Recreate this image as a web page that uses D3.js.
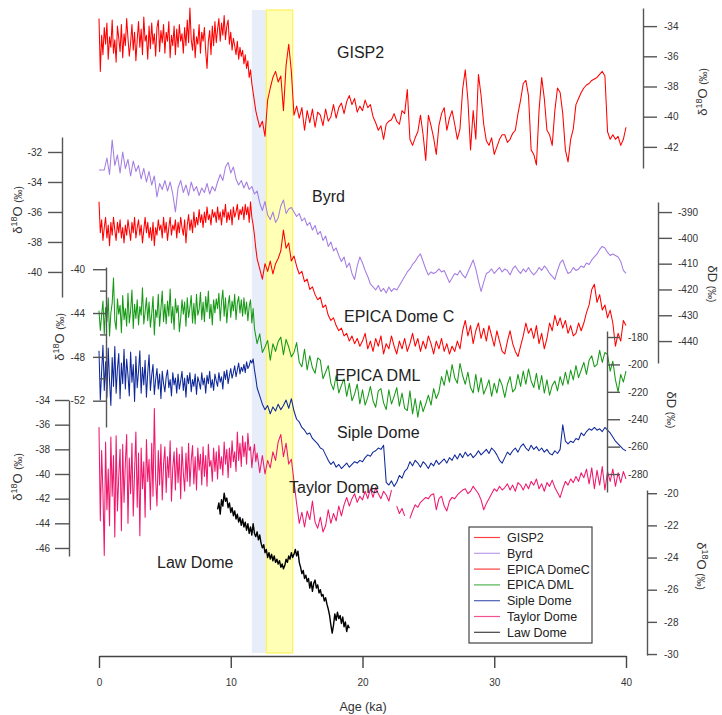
<!DOCTYPE html>
<html>
<head>
<meta charset="utf-8">
<script src="https://cdn.jsdelivr.net/npm/d3@7"></script>
<style>
body { margin: 0; background: #fff; }
</style>
</head>
<body>
<div class="chart"></div>
<script>
// Holocene parts are sampled every 0.1 ka from 0 ka, glacial parts every 0.2 ka from 12 ka

var gisp2Holocene = [
    -33.5,-37.0,-34.6,-35.9,-34.1,-35.2,-33.8,-36.2,-34.7,-35.4,
    -33.6,-35.8,-34.9,-36.4,-34.0,-34.8,-35.7,-33.9,-36.1,-34.5,
    -35.3,-33.5,-34.8,-36.0,-35.1,-33.9,-35.6,-34.4,-36.3,-34.9,
    -33.7,-35.4,-34.2,-35.9,-33.4,-35.0,-34.6,-36.2,-34.0,-35.5,
    -33.8,-35.2,-34.5,-36.0,-34.1,-33.6,-35.7,-34.3,-35.1,-33.9,
    -35.8,-34.4,-35.0,-33.7,-36.1,-34.6,-35.3,-34.0,-35.9,-34.2,
    -35.4,-33.9,-35.0,-34.5,-35.8,-34.1,-35.3,-33.6,-35.1,-32.8,
    -34.9,-35.6,-34.2,-36.1,-34.7,-35.2,-33.9,-35.8,-34.4,-35.0,
    -34.1,-35.7,-36.8,-35.0,-34.3,-35.9,-34.0,-35.3,-33.7,-35.1,
    -34.2,-33.5,-35.0,-33.8,-34.6,-33.3,-34.9,-34.0,-33.6,-35.2,
    -34.4,-35.6,-34.8,-35.3,-35.9,-35.0,-36.2,-35.4,-36.0,-35.6,
    -36.5,-35.9,-36.8,-36.3,-37.4,-36.9,-37.8,-38.4,-39.0,-39.6
];
var gisp2Glacial = [
    -40.0,-40.7,-40.3,-41.3,-38.9,-38.1,-37.4,-37.0,-37.7,-37.3,
    -39.6,-36.6,-35.2,-37.0,-39.9,-39.3,-40.1,-39.4,-40.9,-39.6,
    -40.4,-39.5,-40.7,-39.7,-39.9,-40.6,-39.5,-40.3,-40.0,-39.2,
    -40.1,-39.4,-39.1,-39.8,-39.0,-38.6,-39.2,-38.8,-39.7,-39.3,
    -39.6,-38.9,-39.4,-39.2,-40.0,-40.4,-40.9,-40.6,-41.5,-40.5,
    -40.3,-40.2,-39.8,-40.3,-40.5,-39.6,-39.8,-38.2,-41.5,-41.9,
    -41.4,-41.0,-39.9,-41.2,-42.9,-39.9,-40.6,-41.4,-42.5,-40.6,
    -39.8,-39.4,-40.9,-40.1,-39.6,-40.5,-41.5,-40.8,-38.2,-36.9,
    -38.9,-42.2,-39.6,-41.5,-37.2,-38.6,-40.5,-41.6,-41.9,-41.4,
    -42.5,-42.0,-41.5,-41.2,-41.2,-41.7,-41.5,-41.1,-40.9,-39.8,
    -38.9,-37.8,-37.6,-38.6,-42.2,-42.5,-43.2,-39.6,-37.4,-38.8,
    -40.9,-41.2,-41.9,-39.6,-38.1,-38.4,-39.8,-42.2,-43.0,-41.5,
    -40.8,-39.2,-38.8,-38.4,-38.1,-37.9,-37.8,-37.6,-37.5,-37.4,
    -37.2,-37.0,-37.3,-41.0,-41.5,-41.2,-41.5,-41.3,-41.9,-41.5,
    -40.7
];

// Byrd: one value every 0.2 ka from 0 to 40 ka
var byrd = [
    -33.2,-33.2,-33.2,-32.4,-33.5,-31.2,-32.9,-32.2,-33.4,-32.0,
    -33.1,-32.5,-33.6,-32.6,-33.3,-32.9,-33.8,-33.1,-34.0,-33.3,
    -34.2,-33.6,-35.0,-34.1,-34.5,-33.9,-34.6,-34.0,-34.8,-36.0,
    -34.4,-33.9,-34.7,-34.2,-34.9,-34.0,-34.6,-34.3,-34.9,-34.4,
    -34.7,-34.1,-34.8,-34.3,-34.6,-34.0,-33.5,-33.9,-33.0,-32.7,
    -33.4,-33.0,-33.8,-34.2,-33.9,-34.4,-34.0,-34.5,-34.3,-34.8,
    -34.6,-35.4,-35.9,-35.3,-36.2,-36.5,-36.0,-36.7,-36.4,-35.6,
    -35.2,-36.1,-35.8,-35.7,-36.0,-36.3,-36.1,-36.6,-36.4,-36.9,
    -36.7,-37.2,-36.9,-37.5,-37.3,-37.9,-37.6,-38.3,-38.0,-38.6,
    -38.4,-38.9,-39.3,-39.0,-39.7,-39.4,-40.1,-40.5,-39.6,-39.0,
    -39.4,-39.9,-40.3,-40.8,-41.0,-41.2,-40.9,-41.3,-41.1,-41.4,
    -41.0,-41.3,-41.1,-41.2,-40.9,-40.6,-40.3,-40.0,-39.8,-39.5,
    -39.3,-39.0,-38.8,-39.3,-39.8,-40.2,-40.0,-40.1,-40.0,-39.8,
    -40.0,-39.9,-40.3,-40.7,-40.4,-40.1,-40.2,-39.9,-40.2,-40.4,
    -40.0,-39.6,-39.2,-39.8,-40.6,-41.3,-40.7,-40.1,-40.0,-39.8,
    -40.1,-39.9,-39.7,-40.0,-39.8,-39.9,-40.2,-39.8,-39.6,-39.9,
    -40.1,-39.8,-40.0,-39.7,-40.0,-40.2,-40.0,-39.7,-39.9,-39.6,
    -39.8,-40.1,-40.3,-40.5,-39.9,-39.4,-39.2,-39.7,-40.1,-40.0,
    -39.7,-39.9,-39.8,-39.6,-39.7,-39.4,-39.5,-39.2,-39.0,-38.8,
    -38.5,-38.3,-38.4,-38.7,-38.9,-38.8,-38.9,-39.0,-39.3,-39.9,
    -40.1
];

// EPICA Dome C is deuterium (dD)
var domeCHolocene = [
    -386,-398,-393,-401,-396,-392,-400,-395,-403,-394,
    -399,-392,-397,-401,-394,-398,-393,-400,-396,-402,
    -395,-399,-393,-397,-401,-394,-398,-392,-400,-396,
    -393,-399,-395,-402,-397,-392,-398,-394,-400,-396,
    -401,-394,-403,-396,-399,-393,-397,-395,-400,-392,
    -398,-394,-401,-396,-392,-399,-395,-397,-393,-400,
    -394,-398,-392,-396,-399,-393,-402,-395,-391,-397,
    -393,-398,-390,-396,-392,-395,-389,-394,-391,-396,
    -390,-394,-388,-393,-391,-395,-389,-392,-390,-394,
    -388,-393,-390,-395,-389,-392,-387,-394,-390,-393,
    -389,-395,-388,-392,-390,-387,-393,-389,-391,-388,
    -393,-387,-391,-388,-394,-386,-392,-395,-399,-404
];
var domeCGlacial = [
    -408,-412,-416,-410,-413,-409,-414,-410,-408,-405,
    -397,-404,-402,-409,-407,-411,-414,-413,-417,-416,
    -420,-419,-422,-424,-423,-427,-426,-430,-432,-431,
    -434,-436,-435,-438,-437,-440,-438,-441,-439,-442,
    -440,-437,-443,-440,-444,-439,-442,-438,-445,-441,
    -443,-438,-442,-445,-440,-443,-439,-444,-441,-437,
    -442,-439,-444,-440,-443,-438,-441,-445,-440,-443,
    -439,-444,-441,-445,-442,-444,-440,-443,-436,-432,
    -438,-434,-441,-436,-433,-439,-435,-440,-434,-438,
    -442,-436,-440,-444,-445,-440,-436,-441,-444,-446,
    -442,-438,-433,-437,-435,-439,-434,-441,-437,-443,
    -439,-433,-436,-430,-434,-431,-435,-432,-437,-434,
    -438,-437,-433,-436,-433,-429,-426,-420,-418,-425,
    -422,-428,-426,-431,-428,-433,-442,-437,-440,-432,
    -434
];

var dmlHolocene = [
    -43.8,-45.6,-44.2,-42.9,-45.9,-43.5,-44.8,-42.6,-46.1,-44.0,
    -43.1,-40.8,-44.7,-45.5,-42.7,-44.1,-43.3,-45.8,-42.4,-44.6,
    -43.6,-45.2,-42.2,-44.9,-43.8,-41.9,-45.4,-43.2,-44.5,-42.8,
    -45.1,-43.4,-44.2,-41.7,-45.0,-43.9,-42.6,-44.7,-43.0,-45.3,
    -44.1,-42.5,-46.0,-43.7,-44.4,-42.3,-45.2,-43.6,-42.0,-44.8,
    -43.2,-45.0,-42.9,-44.3,-41.8,-44.9,-43.4,-45.5,-42.7,-44.0,
    -43.3,-45.7,-44.5,-42.8,-44.1,-43.0,-45.2,-42.6,-44.4,-43.5,
    -42.4,-44.9,-43.1,-45.0,-42.3,-44.2,-43.7,-42.1,-44.6,-43.0,
    -44.8,-42.5,-43.9,-42.0,-44.5,-43.2,-45.1,-42.8,-44.0,-42.7,
    -43.6,-42.2,-44.7,-43.0,-41.9,-44.3,-42.6,-44.9,-43.3,-42.4,
    -44.4,-42.9,-43.8,-42.3,-44.6,-43.1,-42.5,-44.0,-42.8,-44.3,
    -42.6,-44.1,-43.0,-44.7,-43.4,-42.8,-44.9,-43.6,-45.4,-46.1
];
var dmlGlacial = [
    -46.8,-45.9,-47.6,-47.1,-46.5,-48.3,-46.8,-47.5,-46.6,-46.2,
    -47.8,-46.4,-47.1,-48.0,-47.6,-46.7,-48.5,-48.9,-47.3,-49.2,
    -47.9,-49.0,-49.5,-48.1,-48.3,-50.0,-49.4,-48.8,-50.4,-51.0,
    -49.7,-51.3,-50.6,-50.0,-51.6,-50.4,-52.0,-51.4,-50.5,-52.3,
    -51.0,-52.4,-51.7,-50.7,-52.0,-52.6,-51.1,-50.9,-52.2,-52.8,
    -51.0,-52.3,-51.6,-50.8,-52.5,-51.3,-52.7,-52.9,-51.1,-53.2,
    -51.8,-53.5,-52.0,-53.0,-52.3,-51.5,-52.4,-50.9,-51.8,-51.2,
    -49.8,-50.6,-49.2,-50.3,-48.7,-49.9,-50.4,-48.6,-49.7,-50.5,
    -49.4,-50.8,-51.3,-49.6,-51.2,-49.9,-51.4,-50.8,-50.1,-51.6,
    -50.4,-51.3,-50.0,-50.6,-51.7,-50.5,-49.8,-51.2,-50.9,-49.6,
    -50.7,-49.3,-50.5,-49.1,-50.2,-50.8,-49.5,-51.0,-49.7,-51.3,
    -50.1,-51.5,-50.6,-50.2,-51.1,-49.8,-50.6,-49.4,-50.5,-49.2,
    -50.1,-48.8,-49.9,-49.2,-48.5,-49.6,-48.3,-47.9,-48.9,-48.7,
    -47.4,-48.5,-47.6,-47.8,-49.3,-48.4,-50.1,-51.2,-49.6,-50.3,
    -49.3
];

// Siple Dome is deuterium (dD)
var sipleHolocene = [
    -190,-226,-205,-186,-219,-198,-224,-188,-212,-230,
    -195,-216,-187,-221,-203,-192,-225,-199,-214,-189,
    -218,-196,-208,-223,-191,-213,-200,-227,-194,-217,
    -205,-190,-221,-202,-215,-197,-224,-206,-193,-219,
    -208,-200,-222,-211,-203,-218,-207,-225,-205,-214,
    -220,-209,-204,-217,-211,-223,-206,-215,-210,-221,
    -207,-218,-212,-205,-219,-210,-224,-208,-214,-206,
    -220,-211,-216,-207,-222,-209,-213,-218,-206,-215,
    -210,-221,-208,-214,-205,-217,-211,-219,-207,-212,
    -216,-206,-213,-209,-218,-205,-211,-204,-214,-208,
    -203,-210,-206,-201,-209,-204,-199,-207,-202,-205,
    -200,-206,-198,-203,-201,-197,-199,-196,-204,-210
];
var sipleGlacial = [
    -217,-223,-229,-233,-230,-236,-231,-234,-229,-233,
    -230,-226,-232,-225,-234,-240,-242,-246,-248,-251,
    -250,-254,-256,-258,-261,-262,-266,-270,-273,-271,
    -275,-273,-276,-274,-272,-275,-273,-271,-272,-270,
    -271,-268,-266,-267,-264,-263,-261,-262,-259,-286,
    -288,-285,-289,-286,-281,-283,-278,-276,-271,-274,
    -270,-272,-275,-271,-273,-276,-272,-274,-270,-273,
    -271,-269,-272,-268,-270,-266,-269,-265,-268,-264,
    -267,-265,-268,-266,-263,-266,-264,-262,-265,-261,
    -263,-266,-270,-272,-268,-264,-266,-263,-261,-264,
    -260,-258,-261,-263,-259,-262,-260,-263,-261,-264,
    -262,-265,-266,-263,-265,-262,-244,-256,-258,-256,
    -257,-254,-255,-250,-252,-249,-247,-248,-246,-248,
    -247,-249,-246,-248,-250,-253,-256,-258,-260,-262,
    -263
];

var taylorHolocene = [
    -36.2,-43.8,-38.1,-41.5,-46.6,-37.4,-42.9,-39.6,-44.2,-37.0,
    -41.8,-38.5,-45.1,-36.9,-43.0,-40.2,-38.0,-44.6,-37.6,-42.3,
    -39.1,-36.8,-44.0,-38.7,-41.6,-37.5,-43.4,-39.8,-36.6,-42.7,
    -38.3,-45.0,-37.9,-41.2,-39.0,-43.5,-37.2,-40.6,-38.8,-42.9,
    -37.5,-41.8,-34.7,-40.4,-42.6,-38.1,-40.9,-37.6,-42.1,-39.2,
    -37.8,-41.5,-38.6,-40.3,-37.3,-42.2,-39.5,-38.2,-41.3,-37.9,
    -40.7,-38.4,-42.0,-37.8,-39.9,-41.4,-38.3,-40.6,-37.5,-41.0,
    -38.9,-37.7,-40.8,-38.6,-41.3,-37.9,-39.7,-38.4,-40.9,-37.8,
    -40.2,-38.5,-41.0,-37.6,-39.4,-38.9,-40.6,-37.9,-39.8,-38.2,
    -40.4,-37.7,-39.6,-38.6,-40.1,-37.4,-39.2,-38.0,-40.3,-37.9,
    -39.5,-37.3,-39.0,-38.2,-39.8,-36.6,-38.9,-37.5,-39.4,-36.9,
    -38.6,-37.4,-39.2,-36.7,-38.1,-37.8,-39.5,-38.4,-37.6,-39.0
];
// null = gap in the record
var taylorGlacial = [
    -38.3,-39.9,-38.5,-40.0,-38.9,-39.5,-38.2,-38.9,-37.4,-36.8,
    -38.6,-37.5,-39.2,-38.8,-40.6,-42.4,-44.0,-43.1,-44.3,-43.0,
    -43.7,-42.2,-43.9,-44.4,-43.5,-44.7,-44.2,-42.9,-44.0,-43.2,
    -43.8,-42.6,-43.4,-42.5,-41.9,-42.6,-42.0,-41.6,-42.3,-41.8,
    -42.1,-41.4,-42.0,-41.2,-41.9,-41.1,-41.6,-42.0,-41.4,-41.7,
    -42.2,-41.3,null,-42.6,-43.2,-42.8,-43.4,null,-43.6,-43.0,
    -42.5,-42.7,-42.3,-42.1,-41.9,-42.0,-41.7,-41.6,-42.9,-42.0,
    -41.8,-42.6,-43.0,-42.2,-41.9,-42.0,-41.7,-41.5,-41.3,-41.2,
    -41.6,-41.4,-41.0,-41.3,-41.6,-42.1,-42.9,-42.4,-42.0,-41.6,
    -41.2,-41.4,-41.0,-41.3,-41.1,-40.8,-41.3,-40.9,-41.4,-40.7,
    -40.9,-41.3,-40.8,-41.2,-40.6,-40.9,-40.4,-41.2,-40.8,-41.4,
    -40.7,-41.0,-40.5,-41.1,-41.5,-41.9,-41.2,-40.6,-40.9,-40.4,
    -40.7,-40.2,-40.6,-39.9,-40.3,-39.6,-40.8,-39.5,-41.2,-39.7,
    -40.9,-39.4,-41.3,-39.8,-40.6,-39.6,-41.0,-39.9,-40.7,-39.8,
    -40.4
];

// Law Dome: every 0.1 ka from 9 to 19 ka
var law = [
    -21.0,-20.6,-21.3,-20.4,-20.8,-20.0,-20.5,-20.3,-20.9,-20.6,
    -21.2,-20.9,-21.4,-21.1,-21.6,-21.3,-21.8,-21.5,-22.0,-21.6,
    -22.1,-21.8,-22.3,-21.9,-22.5,-22.1,-22.6,-21.9,-22.5,-22.7,
    -22.4,-22.9,-22.6,-23.1,-23.4,-23.2,-23.7,-23.5,-24.0,-23.7,
    -24.1,-23.8,-24.2,-23.9,-24.3,-24.1,-24.4,-24.2,-24.6,-24.4,
    -24.7,-24.5,-24.1,-24.3,-23.9,-24.1,-23.7,-24.0,-23.8,-23.5,
    -23.9,-23.6,-24.3,-24.6,-25.0,-24.8,-25.3,-25.1,-25.5,-25.3,
    -25.9,-25.5,-26.1,-25.6,-25.4,-25.9,-25.7,-26.2,-26.0,-26.4,
    -26.3,-26.7,-26.5,-26.9,-27.2,-27.6,-28.2,-28.7,-28.2,-27.5,
    -27.9,-27.4,-27.8,-27.6,-28.1,-27.7,-28.3,-28.0,-28.6,-28.2,
    -28.4
];

var xTicks = [0, 10, 20, 30, 40];
var gispTicks = [-34, -36, -38, -40, -42];
var byrdTicks = [-32, -34, -36, -38, -40];
var domeCTicks = [-390, -400, -410, -420, -430, -440];
var dmlTicks = [-40, -44, -48, -52];
var dmlMinor = [-42, -46, -50];
var sipleTicks = [-180, -200, -220, -240, -260, -280];
var taylorTicks = [-34, -36, -38, -40, -42, -44, -46];
var lawTicks = [-20, -22, -24, -26, -28, -30];

// Younger Dryas / Bolling-Allerod shading (ka)
var bands = [
    { from: 11.6, to: 12.7, fill: "#e7edf9", stroke: "none" },
    { from: 12.7, to: 14.7, fill: "#ffffb6", stroke: "#fdf25a" }
];

var font = "'Liberation Sans', Arial, Helvetica, sans-serif";

var svg = d3.select(".chart")
    .append("svg")
    .attr("width", 722)
    .attr("height", 715)
    .style("background", "#fff");

var x = d3.scaleLinear().domain([0, 40]).range([99, 626]);

// one y scale for each record, each axis sits at its own place
var yGisp = d3.scaleLinear().domain([-32.8, -43.4]).range([8, 168]);
var yByrd = d3.scaleLinear().domain([-31, -41.67]).range([137, 297]);
var yDomeC = d3.scaleLinear().domain([-386.1, -448.5]).range([202, 363]);
var yDml = d3.scaleLinear().domain([-39.8, -54.4]).range([267, 427]);
var ySiple = d3.scaleLinear().domain([-175.6, -293.1]).range([331, 492]);
var yTaylor = d3.scaleLinear().domain([-34, -46.65]).range([400, 556]);
var yLaw = d3.scaleLinear().domain([-19.8, -30.06]).range([490, 655]);

// shaded bands
svg.selectAll("rect.band")
    .data(bands)
    .enter()
    .append("rect")
    .attr("class", "band")
    .attr("x", function (d) { return x(d.from); })
    .attr("width", function (d) { return x(d.to) - x(d.from); })
    .attr("y", 10)
    .attr("height", 643)
    .attr("fill", function (d) { return d.fill; })
    .attr("stroke", function (d) { return d.stroke; })
    .attr("stroke-width", 1.2);

function twoParts(early, late) {
    return [{ start: 0, step: 0.1, values: early }, { start: 12, step: 0.2, values: late }];
}

var series = [
    { name: "GISP2", parts: twoParts(gisp2Holocene, gisp2Glacial), y: yGisp, color: "#ff0000" },
    { name: "Byrd", parts: [{ start: 0, step: 0.2, values: byrd }], y: yByrd, color: "#a47de2" },
    { name: "EPICA DomeC", parts: twoParts(domeCHolocene, domeCGlacial), y: yDomeC, color: "#ff0000" },
    { name: "EPICA DML", parts: twoParts(dmlHolocene, dmlGlacial), y: yDml, color: "#169a16" },
    { name: "Siple Dome", parts: twoParts(sipleHolocene, sipleGlacial), y: ySiple, color: "#0f2899" },
    { name: "Taylor Dome", parts: twoParts(taylorHolocene, taylorGlacial), y: yTaylor, color: "#f0176c" },
    { name: "Law Dome", parts: [{ start: 9, step: 0.1, values: law }], y: yLaw, color: "#000000" }
];

// draw from bottom record to top so the upper ones sit on top
series.slice().reverse().forEach(function (s) {
    var pts = [];
    s.parts.forEach(function (p) {
        p.values.forEach(function (v, i) { pts.push({ age: p.start + i * p.step, v: v }); });
    });
    var line = d3.line()
        .defined(function (d) { return d.v !== null; })
        .x(function (d) { return x(d.age); })
        .y(function (d) { return s.y(d.v); });
    svg.append("path")
        .datum(pts)
        .attr("d", line)
        .attr("fill", "none")
        .attr("stroke", s.color)
        .attr("stroke-width", s.name === "Law Dome" ? 1.4 : 1.05)
        .attr("stroke-linejoin", "round");
});

function drawAxis(scale, side, xpos, ticks, size, pad) {
    var ax = (side === "left" ? d3.axisLeft(scale) : d3.axisRight(scale))
        .tickValues(ticks)
        .tickSize(size)
        .tickSizeOuter(0)
        .tickPadding(pad)
        .tickFormat(function (d) { return String(d); });
    var g = svg.append("g")
        .attr("transform", "translate(" + xpos + ",0)")
        .attr("font-family", font)
        .attr("font-size", 14)
        .call(ax);
    g.select(".domain").attr("stroke", "#555").attr("stroke-width", 1.4);
    g.selectAll(".tick line").attr("stroke", "#555").attr("stroke-width", 1.4);
    g.selectAll(".tick text").attr("fill", "#333");
    return g;
}

drawAxis(yGisp, "right", 643, gispTicks, 14, 7);
drawAxis(yByrd, "left", 62, byrdTicks, 14, 6);
drawAxis(yDomeC, "right", 658, domeCTicks, 14, 6);
drawAxis(yDml, "left", 106, dmlTicks, 13, 8);
drawAxis(ySiple, "right", 607, sipleTicks, 13, 8);
drawAxis(yTaylor, "left", 69, taylorTicks, 14, 5);
drawAxis(yLaw, "right", 647, lawTicks, 10, 7);

// small unlabeled ticks on the DML axis
svg.selectAll("line.minor")
    .data(dmlMinor)
    .enter()
    .append("line")
    .attr("class", "minor")
    .attr("x1", 100).attr("x2", 106)
    .attr("y1", function (d) { return yDml(d); })
    .attr("y2", function (d) { return yDml(d); })
    .attr("stroke", "#555")
    .attr("stroke-width", 1.4);

// x axis
var xg = svg.append("g")
    .attr("transform", "translate(0,656)")
    .attr("font-family", font)
    .attr("font-size", 14)
    .call(d3.axisBottom(x).tickValues(xTicks).tickSize(12).tickSizeOuter(0).tickPadding(11));
xg.select(".domain").attr("stroke", "#444").attr("stroke-width", 1.4);
xg.selectAll(".tick line").attr("stroke", "#444").attr("stroke-width", 1.4);
xg.selectAll(".tick text").attr("fill", "#333");

svg.append("text")
    .attr("x", 363)
    .attr("y", 711)
    .attr("text-anchor", "middle")
    .attr("font-family", font)
    .attr("font-size", 12.5)
    .attr("fill", "#333")
    .text("Age (ka)");

// rotated axis titles
function axisTitle(cx, cy, rot, isotope) {
    var t = svg.append("text")
        .attr("transform", "translate(" + cx + "," + cy + ") rotate(" + rot + ")")
        .attr("text-anchor", "middle")
        .attr("font-family", font)
        .attr("fill", "#333")
        .attr("font-size", 13);
    t.append("tspan").text("\u03b4");
    if (isotope === "O") {
        t.append("tspan").attr("font-size", 9).attr("dy", -5).text("18");
        t.append("tspan").attr("dy", 5).text("O ");
    } else {
        t.append("tspan").text("D ");
    }
    t.append("tspan").attr("font-size", 10).text("(\u2030)");
}

axisTitle(707, 92, -90, "O");
axisTitle(22, 210, -90, "O");
axisTitle(708, 284, 90, "D");
axisTitle(64, 337, -90, "O");
axisTitle(667, 410, 90, "D");
axisTitle(22, 477, -90, "O");
axisTitle(697, 566, 90, "O");

// record names next to the curves
var labels = [
    { text: "GISP2", x: 337, y: 58 },
    { text: "Byrd", x: 312, y: 202 },
    { text: "EPICA Dome C", x: 344, y: 322 },
    { text: "EPICA DML", x: 335, y: 381 },
    { text: "Siple Dome", x: 337, y: 438 },
    { text: "Taylor Dome", x: 289, y: 493 },
    { text: "Law Dome", x: 157, y: 568 }
];
svg.selectAll("text.lab")
    .data(labels)
    .enter()
    .append("text")
    .attr("class", "lab")
    .attr("x", function (d) { return d.x; })
    .attr("y", function (d) { return d.y; })
    .attr("font-family", font)
    .attr("font-size", 16)
    .attr("fill", "#222")
    .text(function (d) { return d.text; });

// legend
var legend = svg.append("g").attr("transform", "translate(469,527)");
legend.append("rect")
    .attr("width", 123)
    .attr("height", 116)
    .attr("fill", "#fff")
    .attr("stroke", "#444")
    .attr("stroke-width", 1.2);
var rows = legend.selectAll("g.row")
    .data(series)
    .enter()
    .append("g")
    .attr("class", "row")
    .attr("transform", function (d, i) { return "translate(0," + (10.5 + i * 15.8) + ")"; });
rows.append("line")
    .attr("x1", 5).attr("x2", 31)
    .attr("stroke", function (d) { return d.color; })
    .attr("stroke-opacity", 0.75)
    .attr("stroke-width", 1.2);
rows.append("text")
    .attr("x", 38)
    .attr("y", 4.5)
    .attr("font-family", font)
    .attr("font-size", 12.5)
    .attr("fill", "#222")
    .text(function (d) { return d.name; });
</script>
</body>
</html>
